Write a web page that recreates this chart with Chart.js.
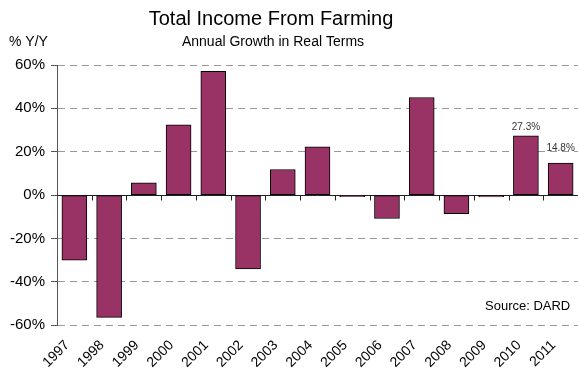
<!DOCTYPE html>
<html>
<head>
<meta charset="utf-8">
<script src="https://cdn.jsdelivr.net/npm/chart.js@4.4.1/dist/chart.umd.min.js"></script>
<style>
  html, body { margin: 0; padding: 0; background: #fff; }
  #wrap { width: 578px; height: 375px; position: relative; }
</style>
</head>
<body>
<div id="wrap"><canvas id="farm-income"></canvas></div>
<script>
const years = ["1997", "1998", "1999", "2000", "2001", "2002", "2003", "2004",
               "2005", "2006", "2007", "2008", "2009", "2010", "2011"];
const growth = [-30.1, -56.4, 5.6, 32.4, 57.1, -34.1, 11.8, 22.3,
                -0.7, -10.8, 45.0, -8.6, -0.9, 27.3, 14.8];
const yTicks = [-60, -40, -20, 0, 20, 40, 60];
// only the last two years carry a value label
const labelled = [13, 14];

const FONT = "'Liberation Sans', Arial, sans-serif";

// zero line with the little tick marks between categories (under the bars)
const zeroAxis = {
  id: "zeroAxis",
  beforeDatasetsDraw(chart) {
    const ctx = chart.ctx;
    const x = chart.scales.x;
    const y = chart.scales.y;
    const area = chart.chartArea;
    const zero = Math.round(y.getPixelForValue(0)) + 0.5;

    ctx.save();
    ctx.strokeStyle = "#222";
    ctx.lineWidth = 1;
    ctx.beginPath();
    ctx.moveTo(area.left, zero);
    ctx.lineTo(area.right, zero);
    for (let i = 1; i < years.length; i++) {
      const px = Math.round((x.getPixelForValue(i - 1) + x.getPixelForValue(i)) / 2) + 0.5;
      ctx.moveTo(px, zero);
      ctx.lineTo(px, zero + 5);
    }
    ctx.stroke();
    ctx.restore();
  }
};

// value labels and headings
const decorations = {
  id: "decorations",
  afterDatasetsDraw(chart) {
    const ctx = chart.ctx;
    const meta = chart.getDatasetMeta(0);

    ctx.save();
    ctx.font = "10px " + FONT;
    ctx.fillStyle = "#333";
    ctx.textAlign = "center";
    ctx.textBaseline = "alphabetic";
    const lift = { 13: 6, 14: 12 };
    labelled.forEach(i => {
      const bar = meta.data[i];
      ctx.fillText(growth[i].toFixed(1) + "%", bar.x, bar.y - lift[i]);
    });

    ctx.fillStyle = "#000";
    ctx.textBaseline = "middle";
    ctx.font = "20px " + FONT;
    ctx.fillText("Total Income From Farming", 271, 19);
    ctx.font = "14px " + FONT;
    ctx.fillText("Annual Growth in Real Terms", 273, 42);
    ctx.textAlign = "left";
    ctx.fillText("% Y/Y", 9, 42);
    ctx.font = "13px " + FONT;
    ctx.fillText("Source: DARD", 485, 306);
    ctx.restore();
  }
};

new Chart(document.getElementById("farm-income"), {
  type: "bar",
  data: {
    labels: years,
    datasets: [{
      data: growth,
      backgroundColor: "#993366",
      borderColor: "#000",
      borderWidth: 1,
      borderSkipped: false,
      barThickness: 25
    }]
  },
  options: {
    responsive: true,
    maintainAspectRatio: false,
    animation: false,
    layout: { padding: { top: 65, right: -3, bottom: 0, left: 4 } },
    plugins: {
      legend: { display: false },
      tooltip: { enabled: false }
    },
    scales: {
      x: {
        grid: { display: false },
        border: { display: false },
        ticks: {
          autoSkip: false,
          minRotation: 45,
          maxRotation: 45,
          labelOffset: -7,
          padding: 4,
          color: "#000",
          font: { family: FONT, size: 14 }
        }
      },
      y: {
        min: -60,
        max: 60,
        afterBuildTicks(scale) {
          scale.ticks = yTicks.map(v => ({ value: v }));
        },
        grid: {
          color: "#999",
          tickColor: "#555",
          tickLength: 6,
          tickBorderDash: []
        },
        border: { display: true, color: "#555", dash: [7, 5] },
        ticks: {
          padding: 6,
          color: "#000",
          font: { family: FONT, size: 15 },
          callback: v => v + "%"
        }
      }
    }
  },
  plugins: [zeroAxis, decorations]
});
</script>
</body>
</html>
